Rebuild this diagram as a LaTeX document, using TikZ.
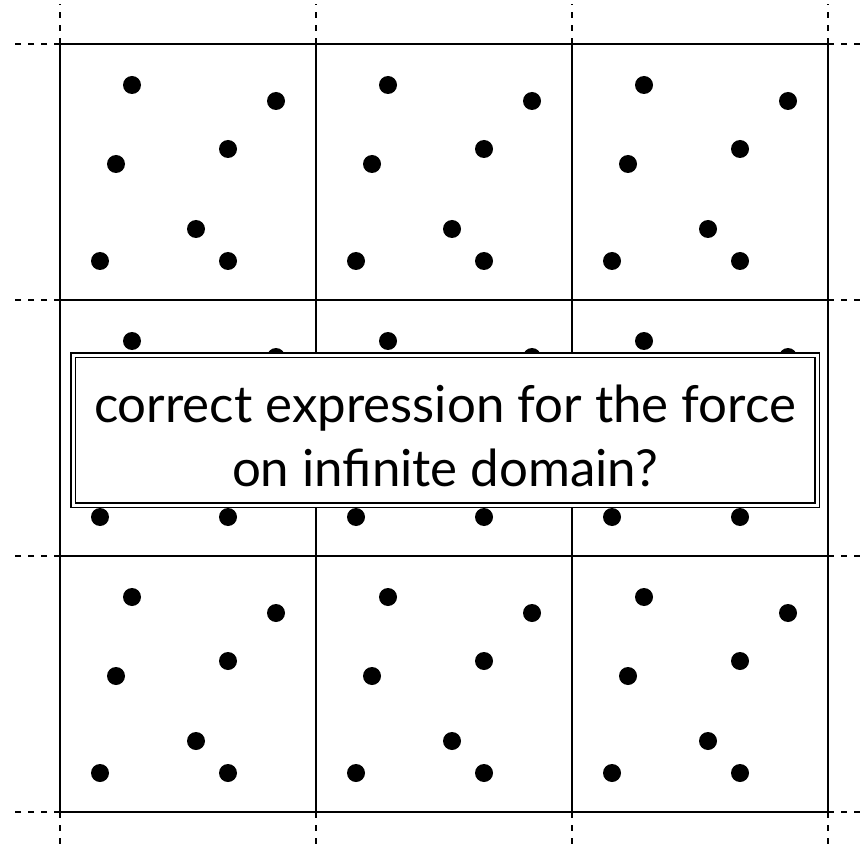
\documentclass[tikz,border=0pt]{standalone}
\usepackage{fontspec}
\setmainfont{Lato}
\usetikzlibrary{positioning}

\begin{document}
\begin{tikzpicture}[x=1pt,y=-1pt]
  \useasboundingbox (0,0) rectangle (862,850); % 画像の大きさ
  \foreach \i in {0,1,2,3} {
    \draw[line width=1.6pt] (60+256*\i,44) -- (60+256*\i,812); % セルの縦の境界
    \draw[line width=1.6pt] (60,44+256*\i) -- (828,44+256*\i); % セルの横の境界
    \draw[line width=1.4pt,dash pattern=on 6pt off 7pt] (60+256*\i,44) -- (60+256*\i,4); % 上へ続く点線
    \draw[line width=1.4pt,dash pattern=on 6pt off 7pt] (60+256*\i,812) -- (60+256*\i,850); % 下へ続く点線
    \draw[line width=1.4pt,dash pattern=on 6pt off 7pt] (60,44+256*\i) -- (12,44+256*\i); % 左へ続く点線
    \draw[line width=1.4pt,dash pattern=on 6pt off 7pt] (828,44+256*\i) -- (862,44+256*\i); % 右へ続く点線
  }
  \foreach \cx in {0,1,2}
    \foreach \cy in {0,1,2}
      \foreach \px/\py in {72/41,216/57,56/120,168/105,136/185,40/217,168/217}
        \fill (60+256*\cx+\px,44+256*\cy+\py) circle[radius=9]; % 各セルの粒子（周期的にくり返す）
  \node[draw,fill=white,double,double distance=3pt,line width=1.6pt,
        minimum width=744,minimum height=150,align=center,inner sep=0pt,
        font=\fontsize{51}{64}\selectfont] (question) at (445,430) {}; % 中央の問いの枠
  \node[align=center,font=\fontsize{51}{64}\selectfont] (questiontext) at (445,436)
    {correct expression for the force\\on infinite domain?}; % 枠の中の問い
\end{tikzpicture}
\end{document}
